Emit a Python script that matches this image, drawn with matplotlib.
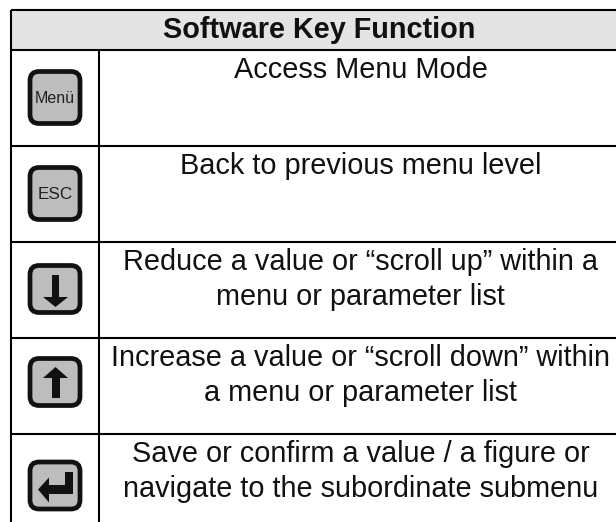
import matplotlib
matplotlib.use("Agg")
import matplotlib.pyplot as plt
from matplotlib.patches import FancyBboxPatch, Rectangle, Polygon

title = "Software Key Function"
key_labels = ["Menü", "ESC", "down", "up", "enter"]
descriptions = [
    ["Access Menu Mode"],
    ["Back to previous menu level"],
    ["Reduce a value or “scroll up” within a", "menu or parameter list"],
    ["Increase a value or “scroll down” within", "a menu or parameter list"],
    ["Save or confirm a value / a figure or", "navigate to the subordinate submenu"],
]
row_lines = [10, 50, 145.5, 241.5, 337.5, 434]
key_centers = [97.5, 193.5, 289, 382, 485.5]
text_baselines = [78, 174, 270, 366, 462]
LINE_H = 35
LEFT, COL, RIGHT, BOTTOM = 11, 98.5, 616, 522
TEXT_X = 360.5
FS = 20.8

plt.rcParams["font.family"] = ["Liberation Sans", "DejaVu Sans"]
fig = plt.figure(figsize=(6.16, 5.22), dpi=100)
ax = fig.add_axes([0, 0, 1, 1])
ax.set_xlim(0, 616)
ax.set_ylim(522, 0)
ax.axis("off")

LW = 1.5
ax.add_patch(Rectangle((LEFT, row_lines[0]), RIGHT - LEFT, row_lines[1] - row_lines[0],
                       fc="#e4e4e4", ec="none", zorder=0))
for y in row_lines:
    ax.plot([LEFT, RIGHT], [y, y], color="black", lw=LW, solid_capstyle="butt", zorder=2)
ax.plot([LEFT, LEFT], [row_lines[0], BOTTOM], color="black", lw=LW, solid_capstyle="butt", zorder=2)
ax.plot([COL, COL], [row_lines[1], BOTTOM], color="black", lw=LW, solid_capstyle="butt", zorder=2)

ax.text(319, 38, title, ha="center", va="baseline", fontsize=FS, fontweight="bold", color="#111111")

for lines, y0 in zip(descriptions, text_baselines):
    for i, s in enumerate(lines):
        ax.text(TEXT_X, y0 + i * LINE_H, s, ha="center", va="baseline", fontsize=FS, color="#111111")

KX = 55
def draw_key(cy, label):
    is_text = label in ("Menü", "ESC")
    w, h, r = 50, 52 if is_text else 47, 7
    ax.add_patch(FancyBboxPatch((KX - w / 2 + r, cy - h / 2 + r), w - 2 * r, h - 2 * r,
                                boxstyle=f"round,pad={r},rounding_size={r + 2}",
                                fc="#bdbdbd", ec="#111111", lw=3.4, zorder=3))
    c = "#111111"
    if is_text:
        ax.text(KX, cy + 1, label, ha="center", va="center", fontsize=12.3 if label == "ESC" else 11.5,
                color="#222222", zorder=4)
    elif label == "down":
        ax.add_patch(Rectangle((KX - 3, cy - 14), 7, 23, fc=c, ec="none", zorder=4))
        ax.add_patch(Polygon([(KX - 12, cy + 8), (KX + 13, cy + 8), (KX + 0.5, cy + 18)], fc=c, ec="none", zorder=4))
    elif label == "up":
        ax.add_patch(Rectangle((KX - 3.5, cy - 5), 8, 21, fc=c, ec="none", zorder=4))
        ax.add_patch(Polygon([(KX - 12, cy - 4), (KX + 13, cy - 4), (KX + 0.5, cy - 15)], fc=c, ec="none", zorder=4))
    else:
        ax.add_patch(Rectangle((KX + 10, cy - 14), 8, 22, fc=c, ec="none", zorder=4))
        ax.add_patch(Rectangle((KX - 7, cy - 1), 25, 9, fc=c, ec="none", zorder=4))
        ax.add_patch(Polygon([(KX - 6, cy - 8), (KX - 6, cy + 17), (KX - 17, cy + 4)], fc=c, ec="none", zorder=4))

for label, cy in zip(key_labels, key_centers):
    draw_key(cy, label)

fig.savefig("out.png", dpi=100)
